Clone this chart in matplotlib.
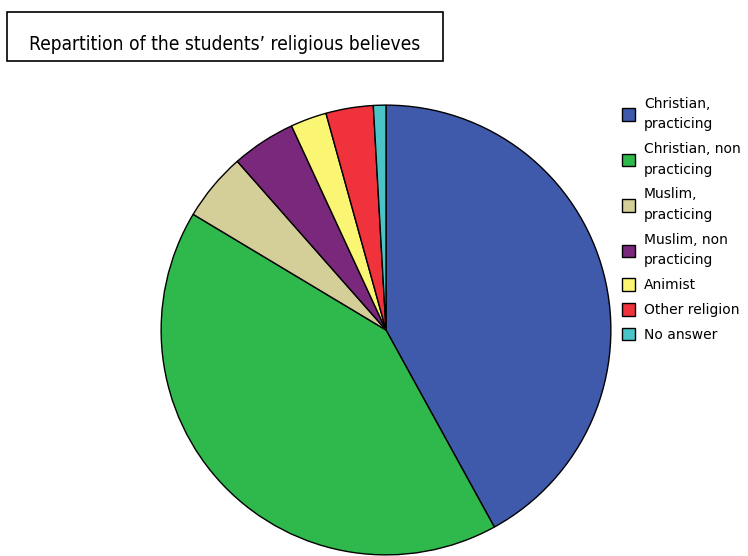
import matplotlib.pyplot as plt
from matplotlib.patches import Patch, Rectangle

# shares of students (percent)
labels = ["Christian,\npracticing", "Christian, non\npracticing", "Muslim,\npracticing",
          "Muslim, non\npracticing", "Animist", "Other religion", "No answer"]
shares = [42.0, 41.6, 4.9, 4.6, 2.6, 3.4, 0.9]
colors = ["#3F59AB", "#2FB84B", "#D4CE99", "#7A287B", "#FAF674", "#EF323B", "#4BC4C8"]

W, H = 748, 556
fig = plt.figure(figsize=(W / 100, H / 100), dpi=100)
plt.rcParams['font.family'] = ['DejaVu Sans']

# pie: centre (386, 330) px, radius 226 px
cx, cy, r = 386, 330, 226
ax = fig.add_axes([(cx - r) / W, (H - cy - r) / H, 2 * r / W, 2 * r / H])
ax.pie(shares, colors=colors, startangle=90, counterclock=False, radius=1,
       wedgeprops=dict(edgecolor="black", linewidth=1.0))
ax.set_xlim(-1.005, 1.005)
ax.set_ylim(-1.005, 1.005)
ax.axis("off")
for p in ax.patches:
    p.set_clip_on(False)

# title in a box
box = Rectangle((7 / W, 1 - 61 / H), 436 / W, 49 / H, transform=fig.transFigure,
                facecolor="white", edgecolor="black", linewidth=1.2)
fig.patches.append(box)
fig.text(225 / W, 1 - 44 / H, "Repartition of the students\u2019 religious believes",
         ha="center", va="center", fontsize=13.8, fontstretch="condensed")

# legend
handles = [Patch(facecolor=c, edgecolor="black", linewidth=1.0) for c in colors]
leg = fig.legend(handles, labels, loc="upper left", bbox_to_anchor=(616 / W, 1 - 91 / H),
                 frameon=False, fontsize=10, handlelength=1.0, handleheight=1.0,
                 handletextpad=0.6, labelspacing=0.78, borderaxespad=0)
for t in leg.get_texts():
    t.set_linespacing(1.6)

fig.savefig("out.png", dpi=100)
